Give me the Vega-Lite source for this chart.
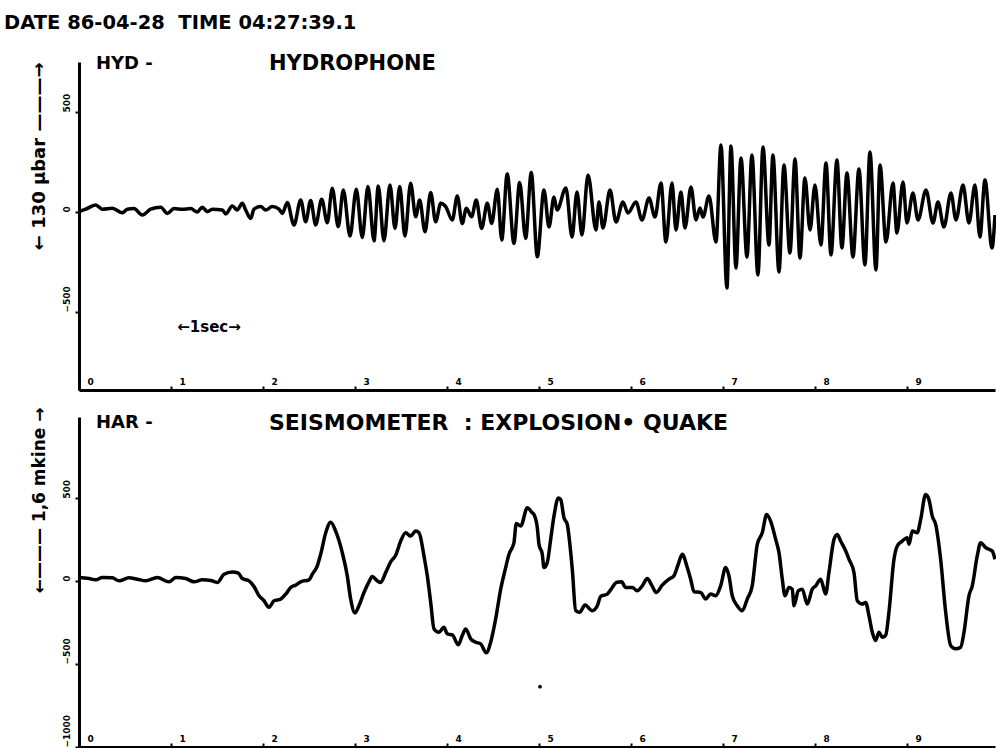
{
  "$schema": "https://vega.github.io/schema/vega-lite/v6.json",
  "padding": {"left": 4, "top": 12, "right": 0, "bottom": 0},
  "background": "white",
  "title": {"text": "DATE 86-04-28\u00a0\u00a0TIME 04:27:39.1", "anchor": "start", "frame": "group", "dx": -75, "offset": 20, "font": "DejaVu Sans", "fontSize": 19.5, "fontWeight": "bold", "color": "black"},
  "config": {
    "view": {"stroke": null},
    "font": "DejaVu Sans",
    "axis": {"domainColor": "black", "domainWidth": 3, "tickColor": "black", "tickWidth": 2, "labelColor": "black", "labelFont": "DejaVu Sans", "labelFontWeight": "bold", "labelFontSize": 9, "grid": false, "titleColor": "black", "titleFont": "DejaVu Sans", "titleFontWeight": "bold", "titleFontSize": 17}
  },
  "datasets": {
    "hyd": [
      {"t":0,"p":2},{"t":0.073,"p":14},{"t":0.182,"p":35},{"t":0.253,"p":14},{"t":0.362,"p":19},{"t":0.471,"p":-4},{"t":0.525,"p":14},{"t":0.598,"p":17},{"t":0.688,"p":-15},{"t":0.779,"p":14},{"t":0.888,"p":24},{"t":0.96,"p":-7},{"t":1.033,"p":17},{"t":1.123,"p":14},{"t":1.214,"p":17},{"t":1.286,"p":0},{"t":1.34,"p":24},{"t":1.395,"p":2},{"t":1.449,"p":14},{"t":1.558,"p":10},{"t":1.595,"p":-10},{"t":1.666,"p":30},{"t":1.721,"p":10},{"t":1.775,"p":44},{"t":1.812,"p":10},{"t":1.866,"p":-32},{"t":1.902,"p":14},{"t":1.975,"p":27},{"t":2.029,"p":10},{"t":2.101,"p":27},{"t":2.174,"p":14},
      {"t":2.21,"p":-7},{"t":2.264,"p":47},{"t":2.337,"p":-65},{"t":2.41,"p":60},{"t":2.464,"p":-49},{"t":2.518,"p":57},{"t":2.573,"p":-65},{"t":2.638,"p":64},{"t":2.699,"p":-54},{"t":2.753,"p":119},{"t":2.818,"p":-74},{"t":2.873,"p":110},{"t":2.946,"p":-120},{"t":3.014,"p":114},{"t":3.079,"p":-127},{"t":3.141,"p":127},{"t":3.207,"p":-144},{"t":3.253,"p":130},{"t":3.315,"p":-144},{"t":3.38,"p":135},{"t":3.435,"p":-82},{"t":3.486,"p":127},{"t":3.543,"p":-120},{"t":3.605,"p":144},{"t":3.66,"p":-24},{"t":3.703,"p":60},{"t":3.761,"p":-99},{"t":3.823,"p":97},{"t":3.877,"p":-49},{"t":3.932,"p":44},{"t":3.986,"p":27},{"t":4.058,"p":-40},{"t":4.112,"p":80},{"t":4.166,"p":-57},{"t":4.21,"p":19},{"t":4.268,"p":-24},{"t":4.318,"p":60},{"t":4.377,"p":-82},{"t":4.438,"p":44},{"t":4.486,"p":-57},{"t":4.547,"p":114},{"t":4.595,"p":-140},{"t":4.655,"p":190},{"t":4.728,"p":-157},{"t":4.79,"p":147},{"t":4.855,"p":-132},{"t":4.916,"p":197},{"t":4.982,"p":-224},
      {"t":5.054,"p":110},{"t":5.109,"p":-75},{"t":5.163,"p":75},{"t":5.196,"p":10},{"t":5.293,"p":120},{"t":5.359,"p":-125},{"t":5.413,"p":100},{"t":5.467,"p":-115},{"t":5.533,"p":185},{"t":5.62,"p":-90},{"t":5.652,"p":50},{"t":5.696,"p":-80},{"t":5.772,"p":110},{"t":5.837,"p":-50},{"t":5.913,"p":50},{"t":5.967,"p":-5},{"t":6.054,"p":50},{"t":6.12,"p":-40},{"t":6.196,"p":70},{"t":6.261,"p":-25},{"t":6.326,"p":145},{"t":6.38,"p":-150},{"t":6.446,"p":145},{"t":6.489,"p":-90},{"t":6.543,"p":100},{"t":6.587,"p":-80},{"t":6.652,"p":125},{"t":6.707,"p":-40},{"t":6.75,"p":20},{"t":6.783,"p":-25},{"t":6.848,"p":80},{"t":6.924,"p":-150},{"t":6.978,"p":335},{"t":7.043,"p":-380},{"t":7.087,"p":330},{"t":7.141,"p":-280},{"t":7.196,"p":270},{"t":7.261,"p":-225},{"t":7.315,"p":285},{"t":7.38,"p":-315},{"t":7.435,"p":325},{"t":7.5,"p":-165},{"t":7.543,"p":285},{"t":7.609,"p":-300},{"t":7.663,"p":235},{"t":7.728,"p":-205},{"t":7.783,"p":265},{"t":7.837,"p":-230},{"t":7.891,"p":170},{"t":7.946,"p":-90},{"t":8.0,"p":135},{"t":8.065,"p":-165},{"t":8.12,"p":245},{"t":8.174,"p":-215},{"t":8.239,"p":260},{"t":8.293,"p":-180},{"t":8.348,"p":195},{"t":8.413,"p":-225},{"t":8.478,"p":215},{"t":8.543,"p":-265},{"t":8.598,"p":300},{"t":8.663,"p":-290},{"t":8.707,"p":235},{"t":8.772,"p":-150},{"t":8.848,"p":145},{"t":8.891,"p":-105},{"t":8.957,"p":150},{"t":9.0,"p":-55},{"t":9.065,"p":95},{"t":9.12,"p":-40},{"t":9.207,"p":110},{"t":9.283,"p":-55},{"t":9.337,"p":50},{"t":9.402,"p":-75},{"t":9.478,"p":95},{"t":9.533,"p":-40},{"t":9.609,"p":135},{"t":9.674,"p":-55},{"t":9.739,"p":135},{"t":9.793,"p":-125},{"t":9.848,"p":160},{"t":9.924,"p":-180},{"t":9.957,"p":-15}
    ],
    "har": [
      {"t":0,"v":22},{"t":0.109,"v":16},{"t":0.182,"v":8},{"t":0.253,"v":22},{"t":0.362,"v":20},{"t":0.435,"v":2},{"t":0.543,"v":20},{"t":0.634,"v":12},{"t":0.725,"v":2},{"t":0.851,"v":22},{"t":0.978,"v":-4},{"t":1.051,"v":22},{"t":1.16,"v":16},{"t":1.25,"v":-4},{"t":1.34,"v":8},{"t":1.432,"v":4},{"t":1.503,"v":-8},{"t":1.576,"v":42},{"t":1.666,"v":56},{"t":1.732,"v":48},{"t":1.775,"v":16},{"t":1.848,"v":2},{"t":1.902,"v":-32},{"t":1.957,"v":-88},{"t":2.011,"v":-118},{"t":2.065,"v":-158},{"t":2.12,"v":-118},{"t":2.192,"v":-108},{"t":2.247,"v":-78},{"t":2.301,"v":-38},{"t":2.355,"v":-24},{"t":2.41,"v":-4},{"t":2.5,"v":8},{"t":2.536,"v":42},{"t":2.59,"v":92},{"t":2.627,"v":162},{"t":2.682,"v":292},{"t":2.736,"v":356},{"t":2.79,"v":302},{"t":2.862,"v":172},{"t":2.916,"v":32},{"t":2.953,"v":-108},{"t":3.0,"v":-192},{"t":3.043,"v":-148},{"t":3.098,"v":-68},{"t":3.152,"v":-4},{"t":3.188,"v":28},{"t":3.242,"v":2},{"t":3.279,"v":-8},{"t":3.334,"v":52},{"t":3.388,"v":116},{"t":3.442,"v":156},{"t":3.497,"v":242},{"t":3.551,"v":292},{"t":3.605,"v":272},{"t":3.66,"v":302},{"t":3.696,"v":292},{"t":3.75,"v":152},{"t":3.786,"v":32},{"t":3.823,"v":-128},{"t":3.859,"v":-288},{"t":3.913,"v":-308},{"t":3.967,"v":-278},{"t":4.003,"v":-318},{"t":4.058,"v":-324},{"t":4.123,"v":-384},{"t":4.166,"v":-328},{"t":4.203,"v":-288},{"t":4.258,"v":-348},{"t":4.312,"v":-368},{"t":4.366,"v":-378},{"t":4.427,"v":-432},{"t":4.475,"v":-368},{"t":4.529,"v":-228},{"t":4.584,"v":-48},{"t":4.638,"v":82},{"t":4.674,"v":162},{"t":4.728,"v":232},{"t":4.753,"v":348},{"t":4.801,"v":332},{"t":4.873,"v":442},{"t":4.927,"v":412},{"t":4.946,"v":402},{"t":4.982,"v":322},{"t":5.0,"v":222},{"t":5.036,"v":162},{"t":5.054,"v":82},{"t":5.09,"v":112},{"t":5.127,"v":252},{"t":5.163,"v":392},{"t":5.21,"v":502},{"t":5.236,"v":492},{"t":5.272,"v":382},{"t":5.308,"v":342},{"t":5.334,"v":232},{"t":5.362,"v":72},{"t":5.399,"v":-178},{"t":5.442,"v":-188},{"t":5.5,"v":-144},{"t":5.579,"v":-178},{"t":5.634,"v":-148},{"t":5.671,"v":-92},{"t":5.742,"v":-78},{"t":5.797,"v":-38},{"t":5.84,"v":-8},{"t":5.899,"v":-4},{"t":5.942,"v":-38},{"t":6.014,"v":-38},{"t":6.068,"v":-58},{"t":6.123,"v":-28},{"t":6.177,"v":16},{"t":6.225,"v":-24},{"t":6.275,"v":-68},{"t":6.34,"v":-24},{"t":6.413,"v":12},{"t":6.467,"v":32},{"t":6.514,"v":102},{"t":6.558,"v":162},{"t":6.612,"v":82},{"t":6.649,"v":12},{"t":6.685,"v":-64},{"t":6.758,"v":-68},{"t":6.812,"v":-108},{"t":6.866,"v":-78},{"t":6.921,"v":-88},{"t":6.975,"v":-28},{"t":7.029,"v":82},{"t":7.065,"v":32},{"t":7.101,"v":-88},{"t":7.155,"v":-148},{"t":7.21,"v":-178},{"t":7.264,"v":-108},{"t":7.318,"v":-28},{"t":7.373,"v":222},{"t":7.427,"v":292},{"t":7.475,"v":402},{"t":7.518,"v":362},{"t":7.573,"v":252},{"t":7.609,"v":172},{"t":7.645,"v":12},{"t":7.674,"v":-88},{"t":7.717,"v":-38},{"t":7.753,"v":-48},{"t":7.772,"v":-148},{"t":7.818,"v":-58},{"t":7.862,"v":-48},{"t":7.916,"v":-138},{"t":7.971,"v":-48},{"t":8.008,"v":-28},{"t":8.062,"v":12},{"t":8.116,"v":-78},{"t":8.152,"v":52},{"t":8.207,"v":252},{"t":8.242,"v":282},{"t":8.279,"v":242},{"t":8.326,"v":192},{"t":8.37,"v":132},{"t":8.424,"v":52},{"t":8.46,"v":-118},{"t":8.514,"v":-138},{"t":8.551,"v":-128},{"t":8.587,"v":-208},{"t":8.623,"v":-308},{"t":8.66,"v":-358},{"t":8.696,"v":-308},{"t":8.732,"v":-338},{"t":8.768,"v":-328},{"t":8.804,"v":-188},{"t":8.859,"v":132},{"t":8.895,"v":212},{"t":8.949,"v":242},{"t":9.003,"v":262},{"t":9.022,"v":222},{"t":9.058,"v":302},{"t":9.112,"v":292},{"t":9.149,"v":372},{"t":9.203,"v":522},{"t":9.239,"v":492},{"t":9.275,"v":392},{"t":9.312,"v":342},{"t":9.366,"v":132},{"t":9.421,"v":-188},{"t":9.475,"v":-388},{"t":9.529,"v":-408},{"t":9.584,"v":-398},{"t":9.62,"v":-308},{"t":9.674,"v":-88},{"t":9.71,"v":-28},{"t":9.764,"v":152},{"t":9.801,"v":232},{"t":9.855,"v":202},{"t":9.927,"v":182},{"t":9.957,"v":132}
    ],
    "dots": [{"t":5.011,"v":-636}]
  },
  "spacing": 27,
  "bounds": "flush",
  "vconcat": [
    {
      "width": 916,
      "height": 328,
      "layer": [
        {
          "data": {"name": "hyd"},
          "mark": {"type": "line", "color": "black", "strokeWidth": 3.5, "interpolate": "monotone"},
          "encoding": {
            "x": {"field": "t", "type": "quantitative", "scale": {"domain": [0, 9.957], "nice": false},
              "axis": {"values": [0,1,2,3,4,5,6,7,8,9], "format": "d", "title": null, "tickSize": -4, "labelAlign": "left", "labelBaseline": "bottom", "labelPadding": 0, "labelOffset": 8, "labelFlush": false}},
            "y": {"field": "p", "type": "quantitative", "scale": {"domain": [-890, 750], "nice": false},
              "axis": {"values": [500, 0, -500], "format": "d", "title": "← 130 μbar ———→", "titleFontSize": 18, "titleAngle": -90, "titleX": -40, "titleY": 0, "titleAlign": "right", "titleBaseline": "middle", "labelAngle": -90, "labelAlign": "left", "labelBaseline": "bottom", "tickSize": 4, "labelPadding": 4}}
          }
        },
        {
          "data": {"values": [{}]},
          "mark": {"type": "text", "align": "left", "baseline": "middle", "font": "DejaVu Sans", "fontWeight": "bold", "fontSize": 18, "color": "black"},
          "encoding": {"x": {"datum": 0.185}, "y": {"datum": 740}, "text": {"value": "HYD -"}}
        },
        {
          "data": {"values": [{}]},
          "mark": {"type": "text", "align": "left", "baseline": "middle", "font": "DejaVu Sans", "fontWeight": "bold", "fontSize": 21, "color": "black"},
          "encoding": {"x": {"datum": 2.065}, "y": {"datum": 740}, "text": {"value": "HYDROPHONE"}}
        },
        {
          "data": {"values": [{}]},
          "mark": {"type": "text", "align": "center", "baseline": "middle", "font": "DejaVu Sans", "fontWeight": "bold", "fontSize": 15, "color": "black"},
          "encoding": {"x": {"datum": 1.413}, "y": {"datum": -575}, "text": {"value": "←1sec→"}}
        }
      ]
    },
    {
      "width": 916,
      "height": 330,
      "layer": [
        {
          "data": {"name": "har"},
          "mark": {"type": "line", "color": "black", "strokeWidth": 3.5, "interpolate": "monotone"},
          "encoding": {
            "x": {"field": "t", "type": "quantitative", "scale": {"domain": [0, 9.957], "nice": false},
              "axis": {"values": [0,1,2,3,4,5,6,7,8,9], "format": "d", "title": null, "tickSize": -4, "labelAlign": "left", "labelBaseline": "bottom", "labelPadding": 0, "labelOffset": 8, "labelFlush": false}},
            "y": {"field": "v", "type": "quantitative", "scale": {"domain": [-1000, 990], "nice": false},
              "axis": {"values": [500, 0, -500, -1000], "format": "d", "title": "←——— 1,6 mkine →", "titleAngle": -90, "titleX": -40, "titleY": -10, "titleAlign": "right", "titleBaseline": "middle", "labelAngle": -90, "labelAlign": "left", "labelBaseline": "bottom", "tickSize": 4, "labelPadding": 4}}
          }
        },
        {
          "data": {"name": "dots"},
          "mark": {"type": "point", "filled": true, "color": "black", "size": 14, "opacity": 1},
          "encoding": {"x": {"field": "t", "type": "quantitative"}, "y": {"field": "v", "type": "quantitative"}}
        },
        {
          "data": {"values": [{}]},
          "mark": {"type": "text", "align": "left", "baseline": "middle", "font": "DejaVu Sans", "fontWeight": "bold", "fontSize": 18, "color": "black"},
          "encoding": {"x": {"datum": 0.185}, "y": {"datum": 954}, "text": {"value": "HAR -"}}
        },
        {
          "data": {"values": [{}]},
          "mark": {"type": "text", "align": "left", "baseline": "middle", "font": "DejaVu Sans", "fontWeight": "bold", "fontSize": 22, "color": "black"},
          "encoding": {"x": {"datum": 2.065}, "y": {"datum": 954}, "text": {"value": "SEISMOMETER\u00a0\u00a0:\u00a0EXPLOSION•\u00a0QUAKE"}}
        }
      ]
    }
  ]
}
